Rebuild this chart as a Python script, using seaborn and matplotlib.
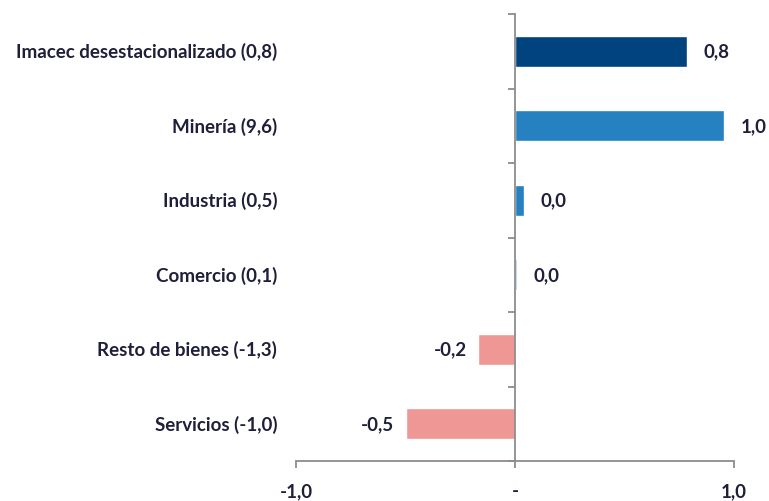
import matplotlib
matplotlib.use("Agg")
import matplotlib.pyplot as plt
import matplotlib.transforms as mtransforms
import seaborn as sns
import pandas as pd

categories = ["Imacec desestacionalizado (0,8)", "Minería (9,6)", "Industria (0,5)",
              "Comercio (0,1)", "Resto de bienes (-1,3)", "Servicios (-1,0)"]
values = [0.785, 0.955, 0.04, 0.009, -0.17, -0.50]
colors = ["#00437F", "#2681C1", "#2681C1", "#9DC3E6", "#EE9794", "#EE9794"]
xticks = [-1.0, 0.0, 1.0]
xticklabels = ["-1,0", "-", "1,0"]

sns.set_theme(style="white")
plt.rcParams["font.family"] = ["Lato", "DejaVu Sans"]

FS = 13.5
FW = "bold"

df = pd.DataFrame({"cat": categories, "val": values})
fig = plt.figure(figsize=(7.69, 5.02), dpi=100)
ax = fig.add_axes([296/769, 1-462/502, (734-296)/769, (462-15)/502])

sns.barplot(data=df, x="val", y="cat", hue="cat", palette=colors, orient="h",
            width=0.42, legend=False, ax=ax, saturation=1)

ax.set_xlim(-1, 1)
ax.set_ylim(len(categories) - 0.5, -0.5)
ax.set_xlabel("")
ax.set_ylabel("")

text_color = "#1F1F3A"
spine_color = "#8C8C8C"

for s in ["top", "right"]:
    ax.spines[s].set_visible(False)
ax.spines["left"].set_position(("data", 0))
for s in ["left", "bottom"]:
    ax.spines[s].set_color(spine_color)
    ax.spines[s].set_linewidth(1.3)

ax.set_xticks(xticks)
ax.set_xticklabels(xticklabels, fontsize=FS, fontweight=FW, color=text_color)
ax.tick_params(axis="x", direction="out", length=5, width=1.3, color=spine_color, pad=10, bottom=True)

# y ticks at category boundaries
bounds = [i - 0.5 for i in range(len(categories) + 1)]
ax.set_yticks(bounds)
ax.set_yticklabels([])
ax.tick_params(axis="y", direction="out", length=5, width=1.3, color=spine_color, left=True)

trans = mtransforms.blended_transform_factory(ax.transAxes, ax.transData)
for i, c in enumerate(categories):
    ax.text(-0.043, i, c, transform=trans, ha="right", va="center",
            fontsize=FS, fontweight=FW, color=text_color)

for i, v in enumerate(values):
    lab = f"{v:.1f}".replace(".", ",")
    if lab == "-0,0":
        lab = "0,0"
    if v >= 0:
        ax.annotate(lab, (v, i), xytext=(12, 0), textcoords="offset points",
                    ha="left", va="center", fontsize=FS, fontweight=FW, color=text_color)
    else:
        ax.annotate(lab, (v, i), xytext=(-8, 0), textcoords="offset points",
                    ha="right", va="center", fontsize=FS, fontweight=FW, color=text_color)

fig.savefig("out.png", dpi=100)
